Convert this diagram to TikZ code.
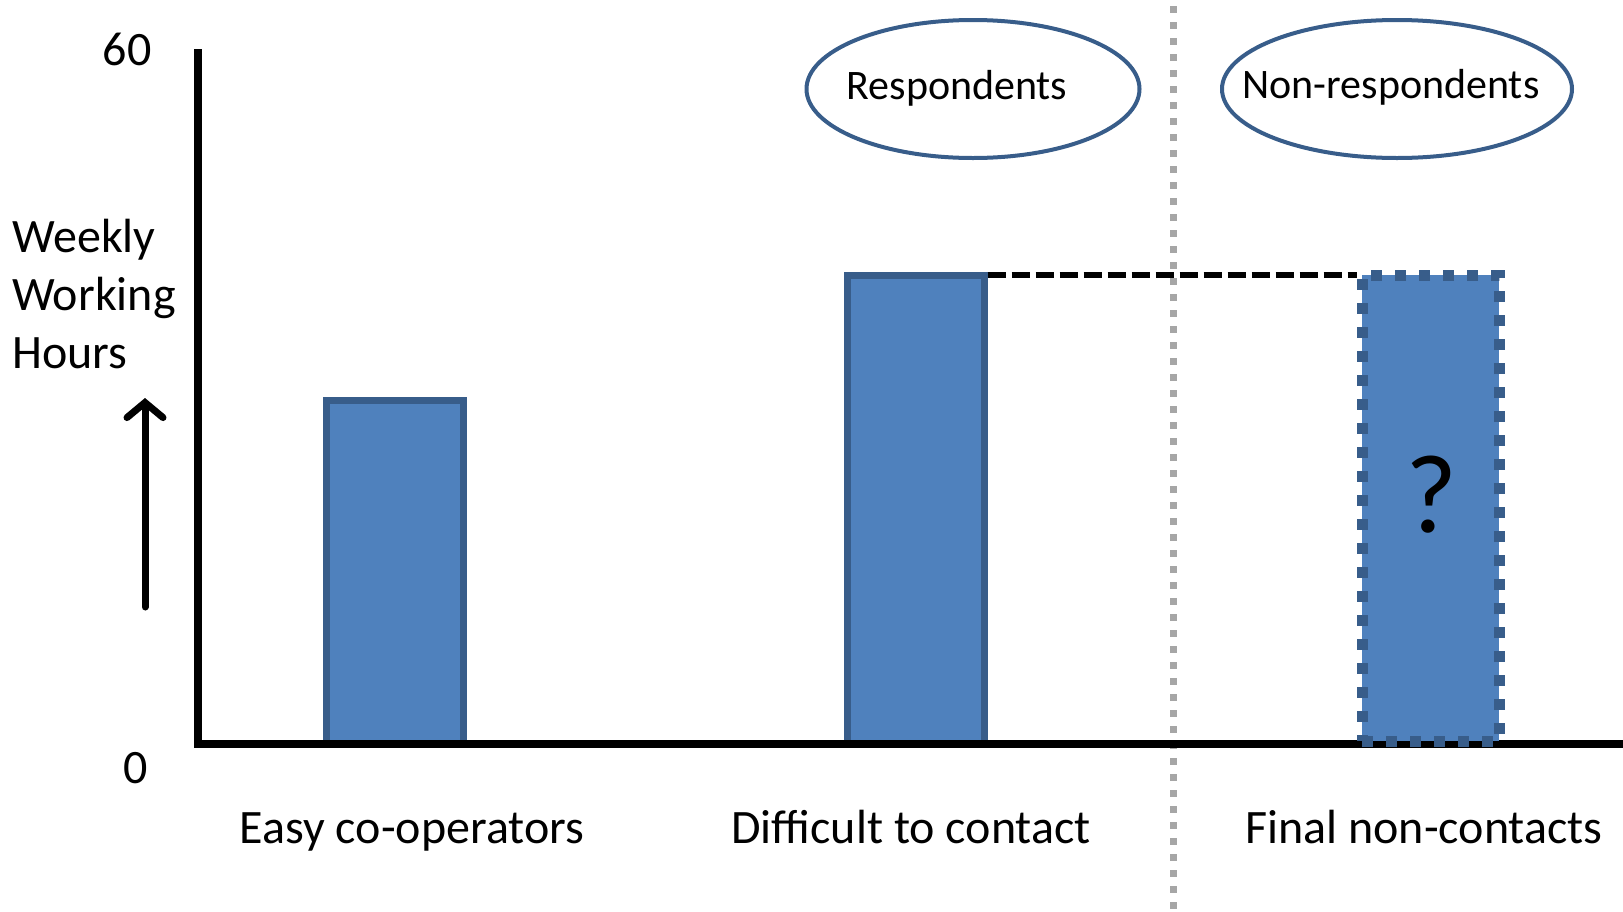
\documentclass[tikz,border=0pt]{standalone}
\usepackage{fontspec}
\setmainfont{Carlito}
\usetikzlibrary{shapes.geometric,arrows.meta}
\definecolor{barfill}{HTML}{4F81BD}
\definecolor{barline}{HTML}{385D8A}
\definecolor{sepgray}{HTML}{A6A6A6}
\tikzset{
  bar/.style={draw=barline, fill=barfill, line width=7pt, inner sep=0pt, outer sep=0pt, minimum width=137pt},
  dotbar/.style={draw=barline, fill=barfill, line width=11pt, dash pattern=on 11pt off 13pt, inner sep=0pt, outer sep=0pt, minimum width=137pt},
  oval/.style={ellipse, draw=barline, line width=4pt, inner sep=0pt, outer sep=0pt},
  ovaltext/.style={font=\fontsize{42}{50}\selectfont, inner sep=0pt, anchor=base},
  lbl/.style={font=\fontsize{48}{58}\selectfont, inner sep=0pt, anchor=base},
}
\begin{document}
\begin{tikzpicture}[x=1pt,y=-1pt]
\useasboundingbox (0,0) rectangle (1623,911);
% separator
\coordinate (s1) at (1173,6);
\coordinate (s2) at (1173,911);
\draw[sepgray, line width=7pt, dash pattern=on 7pt off 9pt] (s1) -- (s2);
% bars
\node[bar, minimum height=343pt] (b1) at (394.5,571.5) {};
\node[bar, minimum height=468pt] (b2) at (915.5,509) {};
% axes
\coordinate (o) at (198,744);
\coordinate (ytop) at (198,49);
\coordinate (xend) at (1623,744);
\draw[line width=8pt] (ytop) -- (o) -- (xend);
\node[dotbar, minimum height=466pt] (b3) at (1430.5,508) {};
\draw[line width=6pt, dash pattern=on 18pt off 6pt] ([xshift=3.5pt]b2.north east) -- ([xshift=-5.5pt]b3.north west);
% labels
\node[lbl] (t60) at (127,65) {60};
\node[lbl] (t0) at (136,783) {0};
\node[lbl, align=left, anchor=base west] (ylab) at (12,368) {Weekly\\Working\\Hours};
\coordinate (abot) at (145,607);
\coordinate (atop) at (145,398);
\draw[line width=7pt, line cap=round, -{Straight Barb[length=15pt,width=36pt,line cap=round,line width=7pt]}] (abot) -- (atop);
\node[lbl] (l1) at (412,843) {Easy co-operators};
\node[lbl] (l2) at (911,843) {Difficult to contact};
\node[lbl] (l3) at (1424,843) {Final non-contacts};
\node[font=\fontsize{112}{120}\selectfont, inner sep=0pt] (q) at (1431,495) {?};
% ovals
\node[oval, minimum width=333pt, minimum height=138pt] (e1) at (973,89) {};
\node[oval, minimum width=350pt, minimum height=138pt] (e2) at (1397,89) {};
\node[ovaltext] (e1t) at (957,99) {Respondents};
\node[ovaltext] (e2t) at (1391,98) {Non-respondents};
\end{tikzpicture}
\end{document}
